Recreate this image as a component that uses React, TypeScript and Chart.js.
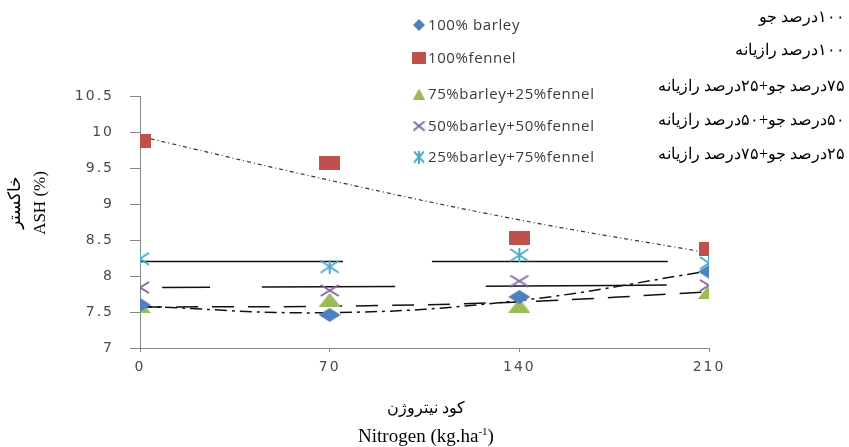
import React, { useEffect, useRef } from 'react';
import { Chart, registerables } from 'chart.js';

Chart.register(...registerables);

// ---- data ----
const nitrogen = [0, 70, 140, 210];
const xTickStep = 70;
const yMin = 7;
const yMax = 10.5;
const yTickStep = 0.5;

const barley100 = [7.6, 7.46, 7.71, 8.06];
const fennel100 = [9.875, 9.57, 8.53, 8.375];
const barley75 = [7.58, 7.67, 7.59, 7.78];
const barley50 = [7.84, 7.8, 7.93, 7.87];
const barley25 = [8.24, 8.13, 8.29, 8.18];

// trend lines
const trendBarley100 = [7.58, 7.49, 7.66, 8.07];
const trendFennel100 = [9.94, 9.33, 8.78, 8.32];
const trendBarley75 = [7.57, 7.58, 7.64, 7.78];
const trendBarley50 = [7.84, 7.85, 7.86, 7.88];
const trendBarley25 = [8.2, 8.2, 8.2, 8.2];

const seriesNames = [
  '100% barley',
  '100%fennel',
  '75%barley+25%fennel',
  '50%barley+50%fennel',
  '25%barley+75%fennel',
];
const seriesNamesFa = [
  '۱۰۰درصد جو',
  '۱۰۰درصد رازیانه',
  '۷۵درصد جو+۲۵درصد رازیانه',
  '۵۰درصد جو+۵۰درصد رازیانه',
  '۲۵درصد جو+۷۵درصد رازیانه',
];
const yTitleFa = 'خاکستر';
const yTitleEn = 'ASH (%)';
const xTitleFa = 'کود نیتروژن';

// ---- styles ----
const colors = ['#4f81bd', '#c0504d', '#9bbb59', '#8064a2', '#4bacc6'];
const kinds = ['diamond', 'square', 'triangle', 'x', 'star'];
const markerSizes = [[22, 14], [21, 14], [22, 14], [20, 13], [20, 14]];
const legendSizes = [[12, 12], [14, 12], [12, 11], [13, 11], [12, 13]];
const legendRows = [25, 58, 94, 126, 157];
const faRows = [17, 50, 86, 120, 154];

function makeMarker(kind: string, color: string, w: number, h: number): HTMLCanvasElement {
  const c = document.createElement('canvas');
  c.width = w;
  c.height = h;
  const g = c.getContext('2d')!;
  g.fillStyle = color;
  g.strokeStyle = color;
  g.lineWidth = 2;
  g.beginPath();
  if (kind === 'diamond') {
    g.moveTo(w / 2, 0);
    g.lineTo(w, h / 2);
    g.lineTo(w / 2, h);
    g.lineTo(0, h / 2);
    g.closePath();
    g.fill();
  } else if (kind === 'square') {
    g.fillRect(0, 0, w, h);
  } else if (kind === 'triangle') {
    g.moveTo(w / 2, 0);
    g.lineTo(w, h);
    g.lineTo(0, h);
    g.closePath();
    g.fill();
  } else {
    g.moveTo(1, 1);
    g.lineTo(w - 1, h - 1);
    g.moveTo(w - 1, 1);
    g.lineTo(1, h - 1);
    if (kind === 'star') {
      g.moveTo(w / 2, 0);
      g.lineTo(w / 2, h);
    }
    g.stroke();
  }
  return c;
}

const toXY = (arr: number[]) => nitrogen.map((x, i) => ({ x, y: arr[i] }));

export default function App() {
  const ref = useRef<HTMLCanvasElement | null>(null);

  useEffect(() => {
    if (!ref.current) return;
    const pointImgs = kinds.map((k, i) => makeMarker(k, colors[i], markerSizes[i][0], markerSizes[i][1]));
    const legendImgs = kinds.map((k, i) => makeMarker(k, colors[i], legendSizes[i][0], legendSizes[i][1]));
    const seriesData = [barley100, fennel100, barley75, barley50, barley25];

    const markerSets = seriesData.map((arr, i) => ({
      label: seriesNames[i],
      data: toXY(arr),
      showLine: false,
      pointStyle: pointImgs[i] as any,
      pointRadius: 8,
      backgroundColor: colors[i],
      borderColor: colors[i],
      order: 0,
    }));

    const trendBase = {
      showLine: true,
      pointRadius: 0,
      borderColor: '#111111',
      borderWidth: 1.5,
      tension: 0.4,
      fill: false,
      order: 1,
    };
    const trendSets = [
      { ...trendBase, label: 't1', data: toXY(trendBarley100), borderDash: [12, 5, 3, 5] },
      { ...trendBase, label: 't2', data: toXY(trendFennel100), borderDash: [4, 3, 1, 3], borderWidth: 1.2, borderColor: '#333333' },
      { ...trendBase, label: 't3', data: toXY(trendBarley75), borderDash: [22, 14] },
      { ...trendBase, label: 't4', data: toXY(trendBarley50), borderDash: [48, 52, 133, 91, 181, 65], borderDashOffset: 548 },
      { ...trendBase, label: 't5', data: toXY(trendBarley25), borderDash: [203, 89, 236, 42] },
    ];

    const legendPlugin = {
      id: 'customLegend',
      beforeDraw(chart: any) {
        chart.ctx.letterSpacing = '2px';
      },
      afterDraw(chart: any) {
        const ctx = chart.ctx;
        ctx.save();
        ctx.letterSpacing = '0.6px';
        ctx.font = '15px "Open Sans", sans-serif';
        ctx.fillStyle = '#3a3a3a';
        ctx.textBaseline = 'middle';
        ctx.textAlign = 'left';
        seriesNames.forEach((name, i) => {
          const img = legendImgs[i];
          ctx.drawImage(img, 419 - img.width / 2, legendRows[i] - img.height / 2);
          ctx.fillText(name, 428, legendRows[i] + 1);
        });
        ctx.restore();
        ctx.letterSpacing = '0px';
      },
    };

    const tickFont = { family: '"DejaVu Sans", sans-serif', size: 14 };
    const axisColor = '#868686';

    const chart = new Chart(ref.current, {
      type: 'scatter',
      data: { datasets: [...markerSets, ...trendSets] as any },
      options: {
        animation: false,
        responsive: false,
        devicePixelRatio: 1,
        events: [],
        layout: { padding: { top: 96, right: 140, left: 0, bottom: 0 } },
        plugins: { legend: { display: false }, tooltip: { enabled: false } },
        scales: {
          x: {
            type: 'linear',
            min: 0,
            max: 210,
            afterFit: (s: any) => { s.height = 99; },
            ticks: { stepSize: xTickStep, padding: 7, font: tickFont, color: '#4a4a4a', maxRotation: 0 },
            grid: { drawOnChartArea: false, drawTicks: true, tickLength: 4, color: axisColor },
            border: { color: axisColor, width: 1 },
          },
          y: {
            type: 'linear',
            min: yMin,
            max: yMax,
            afterFit: (s: any) => { s.width = 140; },
            ticks: {
              stepSize: yTickStep,
              padding: 16,
              font: tickFont,
              color: '#4a4a4a',
              callback: (v: any) => String(Number(v)),
            },
            grid: { drawOnChartArea: false, drawTicks: true, tickLength: 10, color: axisColor },
            border: { color: axisColor, width: 1 },
          },
        },
      },
      plugins: [legendPlugin],
    });
    return () => chart.destroy();
  }, []);

  const serif = '"Liberation Serif", "Times New Roman", serif';
  return (
    <div style={{ position: 'absolute', left: 0, top: 0, width: 849, height: 447, background: '#fff' }}>
      <canvas ref={ref} width={849} height={447} style={{ position: 'absolute', left: 0, top: 0, width: 849, height: 447 }} />
      {seriesNamesFa.map((t, i) => (
        <div
          key={i}
          dir="rtl"
          style={{
            position: 'absolute',
            right: 4,
            top: faRows[i] - 11,
            height: 22,
            lineHeight: '22px',
            fontSize: 16,
            fontFamily: serif,
            color: '#000',
            whiteSpace: 'nowrap',
          }}
        >
          {t}
        </div>
      ))}
      <div
        style={{
          position: 'absolute',
          left: 27 - 100,
          top: 203 - 25,
          width: 200,
          height: 50,
          transform: 'rotate(-90deg)',
          textAlign: 'center',
          fontFamily: serif,
          fontSize: 17,
          lineHeight: '25px',
          color: '#000',
          whiteSpace: 'nowrap',
        }}
      >
        <div dir="rtl">{yTitleFa}</div>
        <div>{yTitleEn}</div>
      </div>
      <div
        dir="rtl"
        style={{
          position: 'absolute',
          left: 326,
          width: 200,
          top: 396,
          height: 24,
          lineHeight: '24px',
          textAlign: 'center',
          fontFamily: serif,
          fontSize: 16,
          color: '#000',
          whiteSpace: 'nowrap',
        }}
      >
        {xTitleFa}
      </div>
      <div
        style={{
          position: 'absolute',
          left: 276,
          width: 300,
          top: 423,
          height: 26,
          lineHeight: '26px',
          textAlign: 'center',
          fontFamily: serif,
          fontSize: 19,
          color: '#000',
          whiteSpace: 'nowrap',
        }}
      >
        Nitrogen (kg.ha<sup style={{ fontSize: 11, lineHeight: 0 }}>-1</sup>)
      </div>
    </div>
  );
}
